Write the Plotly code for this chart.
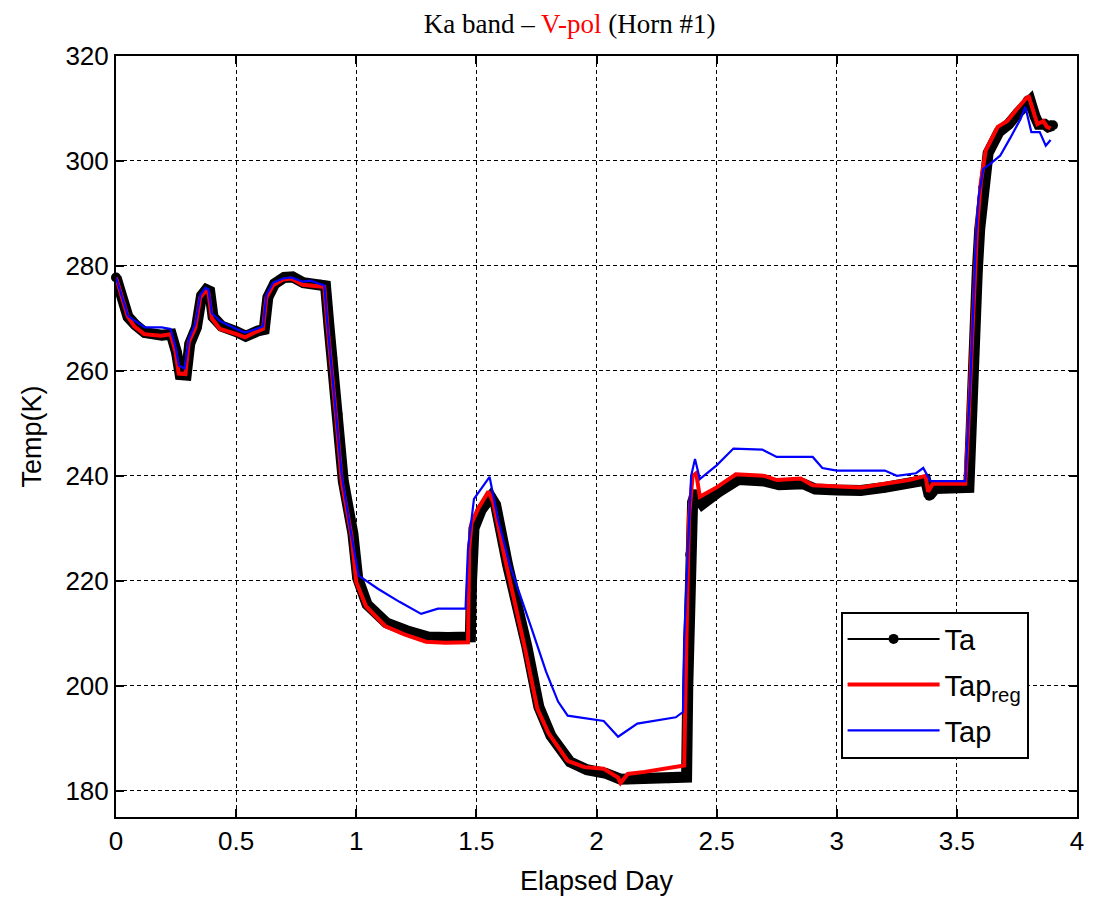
import plotly.graph_objects as go

# ---- data ----
ta_day = [0, 0.05, 0.08, 0.12, 0.19, 0.23, 0.252, 0.267, 0.292, 0.307,
          0.335, 0.356, 0.376, 0.39, 0.404, 0.44, 0.50, 0.54, 0.59, 0.617,
          0.632, 0.66, 0.70, 0.735, 0.78, 0.85, 0.872, 0.886, 0.90, 0.922,
          0.946, 0.986, 1.006, 1.045, 1.125, 1.21, 1.30, 1.38, 1.475, 1.48,
          1.49, 1.52, 1.56, 1.58, 1.63, 1.71, 1.76, 1.81, 1.89, 1.96,
          2.04, 2.10, 2.13, 2.20, 2.30, 2.375, 2.38, 2.39, 2.40, 2.41,
          2.425, 2.44, 2.51, 2.59, 2.70, 2.76, 2.86, 2.91, 3.00, 3.10,
          3.20, 3.31, 3.37, 3.385, 3.41, 3.55, 3.555, 3.565, 3.575, 3.585,
          3.595, 3.61, 3.63, 3.675, 3.715, 3.755, 3.795, 3.805, 3.825, 3.84,
          3.865, 3.88, 3.90]
ta_temp = [277.8, 270.3, 268.8, 267.3, 266.8, 267, 263.5, 259.3, 259.2, 265.2,
           268.3, 274.3, 275.5, 275.2, 270.3, 268.5, 267.5, 266.6, 267.6, 267.9,
           274, 276.6, 277.8, 277.9, 276.8, 276.4, 276.2, 268.8, 262.5, 251.8,
           239, 229, 220.5, 215.5, 212, 210.5, 209.3, 209.2, 209.3, 220,
           230, 233.5, 236, 234.5, 223, 207.5, 196, 190.5, 185.5, 184,
           183.3, 182.2, 182.2, 182.3, 182.4, 182.6, 200, 225, 235, 236.5,
           235, 234.6, 237, 239.3, 239, 238.3, 238.5, 237.5, 237.3, 237.2,
           237.8, 238.7, 239.2, 236.2, 237.6, 237.8, 246, 256, 267, 279,
           287, 295, 301.5, 305.5, 307, 309.2, 311.5, 311.5, 308.5, 307,
           307, 306.5, 306.8]

tapreg_day = [0, 0.048, 0.076, 0.117, 0.186, 0.227, 0.248, 0.261, 0.289, 0.303,
              0.33, 0.351, 0.372, 0.385, 0.399, 0.433, 0.502, 0.537, 0.585, 0.612,
              0.626, 0.654, 0.695, 0.73, 0.777, 0.846, 0.867, 0.88, 0.894, 0.916,
              0.94, 0.98, 1.00, 1.04, 1.12, 1.20, 1.29, 1.37, 1.465, 1.47,
              1.48, 1.51, 1.55, 1.57, 1.62, 1.70, 1.754, 1.80, 1.88, 1.95,
              2.03, 2.09, 2.10, 2.13, 2.20, 2.33, 2.365, 2.375, 2.385, 2.40,
              2.415, 2.43, 2.50, 2.58, 2.70, 2.75, 2.85, 2.90, 3.00, 3.10,
              3.20, 3.30, 3.37, 3.38, 3.40, 3.535, 3.545, 3.555, 3.565, 3.575,
              3.585, 3.60, 3.62, 3.67, 3.71, 3.75, 3.79, 3.80, 3.82, 3.835,
              3.86, 3.875, 3.89]
tapreg_temp = [277.8, 270.5, 268.5, 267, 266.7, 267, 263.6, 259.5, 259.4, 265.5,
               268.2, 274, 275.2, 274.8, 270, 268, 267, 266.4, 267.5, 268,
               274, 276.3, 277.4, 277.6, 276.4, 276.2, 276, 268.6, 262.3, 251.4,
               238.8, 228.6, 219.8, 215.2, 211.4, 209.8, 208.4, 208.2, 208.3, 226,
               231, 234, 237, 235, 224, 207.6, 195.6, 191, 185.7, 184.5,
               184.2, 182.5, 181.5, 183.2, 183.6, 184.6, 184.8, 210, 232, 240,
               240.5, 236, 237.8, 240.3, 240, 239.2, 239.5, 238.2, 238, 237.8,
               238.5, 239.2, 240, 237, 238.5, 238.5, 247, 257, 268, 280,
               288, 296, 302, 306.5, 307.6, 309.9, 312, 312.2, 309, 307,
               307.6, 306.5, 306.2]

tap_day = [0, 0.05, 0.08, 0.12, 0.19, 0.227, 0.248, 0.262, 0.285, 0.303,
           0.33, 0.351, 0.372, 0.385, 0.399, 0.433, 0.50, 0.537, 0.585, 0.612,
           0.626, 0.654, 0.695, 0.73, 0.777, 0.81, 0.846, 0.867, 0.88, 0.894,
           0.916, 0.94, 0.975, 1.01, 1.09, 1.18, 1.27, 1.34, 1.455, 1.465,
           1.49, 1.555, 1.59, 1.64, 1.73, 1.79, 1.84, 1.88, 2.03, 2.09,
           2.17, 2.33, 2.36, 2.365, 2.38, 2.394, 2.41, 2.43, 2.50, 2.57,
           2.69, 2.75, 2.90, 2.94, 3.00, 3.20, 3.25, 3.33, 3.36, 3.39,
           3.535, 3.545, 3.555, 3.563, 3.572, 3.58, 3.59, 3.61, 3.64, 3.68,
           3.72, 3.765, 3.785, 3.81, 3.845, 3.87, 3.89]
tap_temp = [277.8, 270.5, 269.5, 268.3, 268.3, 268, 264.5, 261, 260.5, 266,
            269, 274.5, 275.8, 275.5, 271, 269.5, 268, 267.3, 268, 268.5,
            274.5, 276.8, 277.6, 277.8, 277, 277.2, 276.6, 276.3, 269, 262,
            252, 240, 230, 221, 218.5, 216, 213.7, 214.7, 214.7, 226,
            235.6, 239.8, 231.8, 222.9, 210.9, 202.7, 197, 194.3, 193.3, 190.3,
            192.8, 194, 195, 209, 225.5, 240, 243.2, 239.4, 242, 245.2,
            245, 243.6, 243.6, 241.5, 241, 241, 240, 240.5, 241.5, 239,
            239, 247, 257, 266, 278, 286, 293, 298.5, 299.5, 301,
            304.2, 308, 310.3, 305.5, 305.5, 302.9, 304]

x_ticks = [0, 0.5, 1, 1.5, 2, 2.5, 3, 3.5, 4]
x_tick_text = ["0", "0.5", "1", "1.5", "2", "2.5", "3", "3.5", "4"]
y_ticks = [180, 200, 220, 240, 260, 280, 300, 320]

SANS = "Liberation Sans, Arial, sans-serif"
SERIF = "Liberation Serif, Times New Roman, serif"

fig = go.Figure()

# thick black band of the Ta markers
fig.add_trace(go.Scatter(
    x=ta_day, y=ta_temp, mode="lines", name="Ta",
    line=dict(color="black", width=11), legendgroup="ta", showlegend=False,
    hoverinfo="skip"))
fig.add_trace(go.Scatter(
    x=ta_day, y=ta_temp, mode="lines+markers", name="Ta",
    line=dict(color="black", width=2), marker=dict(color="black", size=10),
    legendgroup="ta", cliponaxis=False))
fig.add_trace(go.Scatter(
    x=tapreg_day, y=tapreg_temp, mode="lines", name="Tap<sub>reg</sub>",
    line=dict(color="red", width=4), legendgroup="reg"))
fig.add_trace(go.Scatter(
    x=tap_day, y=tap_temp, mode="lines", name="Tap",
    line=dict(color="blue", width=2.2), legendgroup="tap"))

axis_common = dict(
    showline=True, linecolor="black", linewidth=2, mirror="ticks",
    ticks="inside", ticklen=8, tickwidth=1.5, tickcolor="black",
    showgrid=True, gridcolor="black", gridwidth=1.3, griddash="4px,3px",
    zeroline=False, tickfont=dict(family=SANS, size=26, color="black"),
)

fig.update_layout(
    width=1093, height=900,
    margin=dict(l=116, r=9, t=56, b=82),
    paper_bgcolor="white", plot_bgcolor="white",
    title=dict(
        text='Ka band \u2013 <span style="color:red">V-pol</span> (Horn #1)',
        font=dict(family=SERIF, size=27, color="black"),
        x=0.472, xref="paper", xanchor="center",
        y=1 - 24 / 900, yref="container", yanchor="middle"),
    xaxis=dict(range=[0, 4], tickvals=x_ticks, ticktext=x_tick_text,
               title=dict(text="Elapsed Day", font=dict(family=SANS, size=27, color="black"), standoff=16),
               **axis_common),
    yaxis=dict(range=[175, 320], tickvals=y_ticks,
               title=dict(text="Temp(K)", font=dict(family=SANS, size=27, color="black"), standoff=16),
               **axis_common),
    legend=dict(
        x=0.754, y=0.27, xanchor="left", yanchor="top",
        bgcolor="white", bordercolor="black", borderwidth=2,
        font=dict(family=SANS, size=29, color="black"),
        traceorder="grouped", tracegroupgap=5, itemwidth=92),
    showlegend=True,
)

fig.write_html("out.html")
